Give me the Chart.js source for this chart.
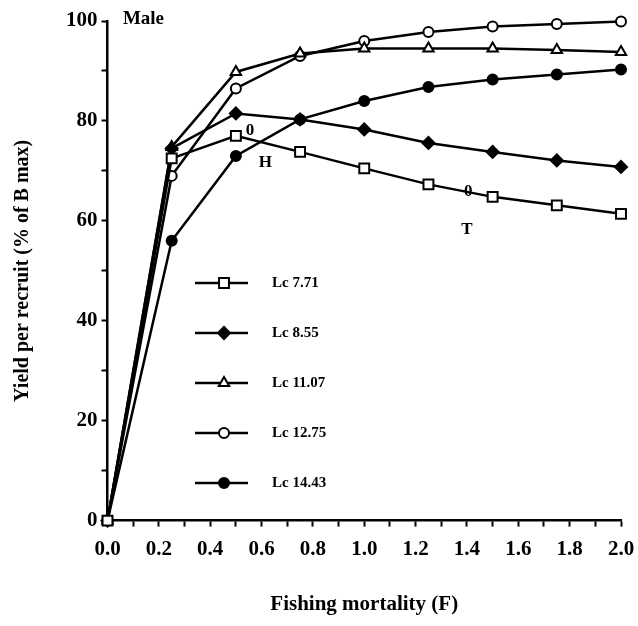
<!DOCTYPE html>
<html>
<head>
<meta charset="utf-8">
<script src="https://cdn.jsdelivr.net/npm/chart.js@4"></script>
<style>
  html, body { margin: 0; padding: 0; background: #fff; }
  #wrap { width: 638px; height: 626px; }
</style>
</head>
<body>
<div id="wrap"><canvas id="yprChart" width="638" height="626"></canvas></div>
<script>
// values (yield per recruit, % of B max)
const fishingMortality = [0, 0.25, 0.5, 0.75, 1.0, 1.25, 1.5, 1.75, 2.0];
const lc771  = [0, 72.5, 77.0, 73.8, 70.5, 67.3, 64.8, 63.1, 61.4];
const lc855  = [0, 74.5, 81.5, 80.3, 78.3, 75.6, 73.8, 72.1, 70.8];
const lc1107 = [0, 74.8, 89.8, 93.5, 94.5, 94.5, 94.5, 94.2, 93.8];
const lc1275 = [0, 69.0, 86.5, 93.0, 96.0, 97.8, 98.9, 99.4, 99.9];
const lc1443 = [0, 56.0, 73.0, 80.3, 84.0, 86.8, 88.3, 89.3, 90.3];
const seriesLabels = ["Lc 7.71", "Lc 8.55", "Lc 11.07", "Lc 12.75", "Lc 14.43"];
const xTickLabels = ["0.0", "0.2", "0.4", "0.6", "0.8", "1.0", "1.2", "1.4", "1.6", "1.8", "2.0"];
const yTickLabels = ["0", "20", "40", "60", "80", "100"];

// text marks on the figure, placed in data units
const noteText = ["Male", "0", "H", "0", "T"];
const noteX = [0.06, 0.555, 0.615, 1.405, 1.40];
const noteY = [100.3, 78.0, 71.6, 65.8, 58.3];

const FONT = "'Liberation Serif', 'DejaVu Serif', serif";

const markerStyles = [
   { pointStyle: "rect", radius: 7, fill: "#fff" },
   { pointStyle: "rectRot", radius: 6, fill: "#000" },
   { pointStyle: "triangle", radius: 6, fill: "#fff" },
   { pointStyle: "circle", radius: 5, fill: "#fff" },
   { pointStyle: "circle", radius: 5, fill: "#000" }
];
const seriesValues = [lc771, lc855, lc1107, lc1275, lc1443];

const datasets = seriesValues.map((vals, i) => ({
   label: seriesLabels[i],
   data: vals.map((v, j) => ({ x: fishingMortality[j], y: v })),
   borderColor: "#000",
   borderWidth: 2.5,
   backgroundColor: markerStyles[i].fill,
   pointStyle: markerStyles[i].pointStyle,
   pointRadius: markerStyles[i].radius,
   pointBorderWidth: 2,
   pointBorderColor: "#000",
   pointBackgroundColor: markerStyles[i].fill,
   tension: 0,
   clip: false
}));

// legend drawn inside the plot, like the original
const innerLegend = {
   id: "innerLegend",
   afterDatasetsDraw(chart) {
      const ctx = chart.ctx;
      ctx.save();
      const x0 = 195, x1 = 248, xm = 224, xt = 272;
      const yStart = 283, step = 50;
      chart.data.datasets.forEach((ds, i) => {
         const y = yStart + i * step;
         ctx.strokeStyle = "#000";
         ctx.lineWidth = 2.5;
         ctx.beginPath();
         ctx.moveTo(x0, y);
         ctx.lineTo(x1, y);
         ctx.stroke();
         ctx.fillStyle = ds.pointBackgroundColor;
         ctx.lineWidth = 2;
         Chart.helpers.drawPoint(ctx, { pointStyle: ds.pointStyle, radius: ds.pointRadius, borderWidth: 2 }, xm, y);
         ctx.fillStyle = "#000";
         ctx.font = "bold 15px " + FONT;
         ctx.textAlign = "left";
         ctx.textBaseline = "middle";
         ctx.fillText(ds.label, xt, y);
      });
      ctx.restore();
   }
};

const notes = {
   id: "notes",
   afterDatasetsDraw(chart) {
      const ctx = chart.ctx;
      const xs = chart.scales.x, ys = chart.scales.y;
      ctx.save();
      ctx.fillStyle = "#000";
      ctx.textBaseline = "middle";
      noteText.forEach((t, i) => {
         ctx.font = (i === 0 ? "bold 19px " : "bold 17px ") + FONT;
         ctx.textAlign = i === 0 ? "left" : "center";
         ctx.fillText(t, xs.getPixelForValue(noteX[i]), ys.getPixelForValue(noteY[i]));
      });
      ctx.restore();
   }
};

const ctx = document.getElementById("yprChart").getContext("2d");
new Chart(ctx, {
   type: "line",
   data: { datasets: datasets },
   options: {
      responsive: false,
      animation: false,
      layout: { padding: { top: 21, right: 2, left: 11, bottom: 9 } },
      plugins: {
         legend: { display: false },
         tooltip: { enabled: false }
      },
      scales: {
         x: {
            type: "linear",
            min: 0,
            max: 2,
            afterFit: (s) => { s.paddingRight = 17; },
            border: { display: true, color: "#000", width: 2.5 },
            grid: { drawOnChartArea: false, color: "#000", tickLength: 6, tickWidth: 2 },
            ticks: {
               stepSize: 0.1,
               autoSkip: false,
               maxRotation: 0,
               color: "#000",
               padding: 10,
               font: { family: FONT, size: 21, weight: "bold" },
               callback: (v) => {
                  const k = Math.round(v * 10);
                  return k % 2 === 0 ? xTickLabels[k / 2] : "";
               }
            },
            title: {
               display: true,
               text: "Fishing mortality (F)",
               color: "#000",
               font: { family: FONT, size: 21, weight: "bold" },
               padding: { top: 20, bottom: 0 }
            }
         },
         y: {
            min: 0,
            max: 100,
            border: { display: true, color: "#000", width: 2.5 },
            grid: { drawOnChartArea: false, color: "#000", tickLength: 6, tickWidth: 2 },
            ticks: {
               stepSize: 10,
               autoSkip: false,
               color: "#000",
               padding: 4,
               font: { family: FONT, size: 21, weight: "bold" },
               callback: (v) => (v % 20 === 0 ? yTickLabels[v / 20] : "")
            },
            title: {
               display: true,
               text: "Yield per recruit (% of B max)",
               color: "#000",
               font: { family: FONT, size: 20, weight: "bold" },
               padding: { top: 0, bottom: 27 }
            }
         }
      }
   },
   plugins: [innerLegend, notes]
});
</script>
</body>
</html>
